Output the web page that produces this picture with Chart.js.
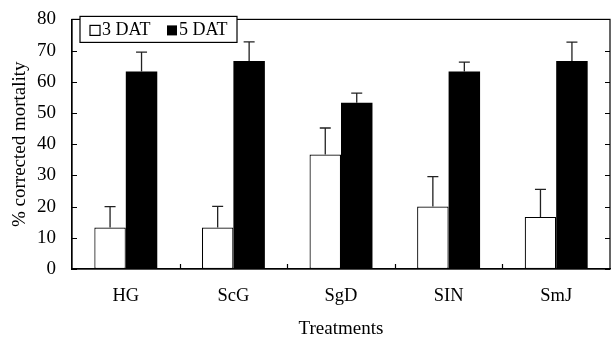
<!DOCTYPE html>
<html>
<head>
<meta charset="utf-8">
<script src="https://cdn.jsdelivr.net/npm/chart.js@4/dist/chart.umd.min.js"></script>
<style>
  html, body { margin: 0; padding: 0; background: #fff; }
  #wrap { width: 612px; height: 341px; }
</style>
</head>
<body>
<div id="wrap"><canvas id="grafico"></canvas></div>
<script>
const tratamentos = ['HG', 'ScG', 'SgD', 'SIN', 'SmJ'];
const dat3 = [13.3, 13.3, 36.7, 20.0, 16.7];
const dat5 = [63.3, 66.7, 53.3, 63.3, 66.7];
const erro3 = [6.7, 6.8, 8.5, 9.6, 8.8];
const erro5 = [6.2, 6.1, 3.1, 3.0, 6.0];
const yMin = 0, yMax = 80, yStep = 10;

Chart.defaults.font.family = "'Liberation Serif', 'DejaVu Serif', serif";
Chart.defaults.color = '#000';

// barras de erro (só para cima, com tampa)
const errorBars = {
  id: 'errorBars',
  afterDatasetsDraw(chart) {
    const ctx = chart.ctx;
    const y = chart.scales.y;
    ctx.save();
    ctx.strokeStyle = '#222';
    ctx.lineWidth = 1.3;
    chart.data.datasets.forEach((ds, i) => {
      const meta = chart.getDatasetMeta(i);
      meta.data.forEach((bar, j) => {
        const topo = y.getPixelForValue(ds.data[j] + ds.erro[j]);
        ctx.beginPath();
        ctx.moveTo(bar.x, bar.y);
        ctx.lineTo(bar.x, topo);
        ctx.moveTo(bar.x - 5.5, topo);
        ctx.lineTo(bar.x + 5.5, topo);
        ctx.stroke();
      });
    });
    ctx.restore();
  }
};

// moldura, ticks para dentro e legenda com caixa
const moldura = {
  id: 'moldura',
  afterDraw(chart) {
    const ctx = chart.ctx;
    const a = chart.chartArea;
    const y = chart.scales.y;
    const x = chart.scales.x;
    ctx.save();
    ctx.strokeStyle = '#000';
    ctx.lineWidth = 1.2;
    ctx.strokeRect(a.left, a.top, a.right - a.left, a.bottom - a.top);
    ctx.beginPath();
    y.ticks.forEach(t => {
      const py = Math.round(y.getPixelForValue(t.value)) + 0.5;
      ctx.moveTo(a.left, py); ctx.lineTo(a.left + 5, py);
      ctx.moveTo(a.right, py); ctx.lineTo(a.right - 5, py);
    });
    for (let k = 1; k < tratamentos.length; k++) {
      const px = Math.round((x.getPixelForValue(k - 1) + x.getPixelForValue(k)) / 2) + 0.5;
      ctx.moveTo(px, a.bottom); ctx.lineTo(px, a.bottom - 5);
    }
    ctx.stroke();

    // legenda
    const lx = a.left + 8, ly = a.top - 3, lw = 157, lh = 26;
    ctx.fillStyle = '#fff';
    ctx.fillRect(lx, ly, lw, lh);
    ctx.lineWidth = 1.2;
    ctx.strokeRect(lx, ly, lw, lh);
    ctx.font = "18px 'Liberation Serif'";
    ctx.textBaseline = 'middle';
    ctx.fillStyle = '#000';
    const cy = ly + lh / 2 + 1;
    const itens = chart.data.datasets;
    let px = lx + 10;
    itens.forEach((ds, i) => {
      if (i === 0) {
        ctx.strokeRect(px, cy - 5, 10, 10);
      } else {
        ctx.fillRect(px, cy - 5, 10, 10);
      }
      ctx.fillText(ds.label, px + 12, cy);
      px += 77;
    });
    ctx.restore();
  }
};

new Chart(document.getElementById('grafico'), {
  type: 'bar',
  data: {
    labels: tratamentos,
    datasets: [
      {
        label: '3 DAT',
        data: dat3,
        erro: erro3,
        backgroundColor: '#fff',
        borderColor: '#000',
        borderWidth: 1.2,
        borderSkipped: false
      },
      {
        label: '5 DAT',
        data: dat5,
        erro: erro5,
        backgroundColor: '#000',
        borderColor: '#000',
        borderWidth: 0
      }
    ]
  },
  options: {
    responsive: true,
    maintainAspectRatio: false,
    animation: false,
    layout: { padding: { left: 0, top: 15, right: 2, bottom: 0 } },
    plugins: {
      legend: { display: false },
      tooltip: { enabled: false }
    },
    datasets: {
      bar: { categoryPercentage: 0.585, barPercentage: 1 }
    },
    scales: {
      x: {
        grid: { display: false },
        border: { display: true, color: '#000', width: 1.2 },
        ticks: { font: { size: 18.5 }, padding: 8, color: '#000' },
        title: {
          display: true,
          text: 'Treatments',
          font: { size: 19 },
          color: '#000',
          padding: { top: 0, bottom: 1 }
        },
        afterFit: s => { s.height = 72; }
      },
      y: {
        min: yMin,
        max: yMax,
        grid: { display: false },
        border: { display: true, color: '#000', width: 1.2 },
        ticks: { stepSize: yStep, font: { size: 19 }, padding: 8, color: '#000' },
        title: {
          display: true,
          text: '% corrected mortality',
          font: { size: 19 },
          color: '#000',
          padding: { top: 9, bottom: 0 }
        },
        afterFit: s => { s.width = 72; }
      }
    }
  },
  plugins: [errorBars, moldura]
});
</script>
</body>
</html>
